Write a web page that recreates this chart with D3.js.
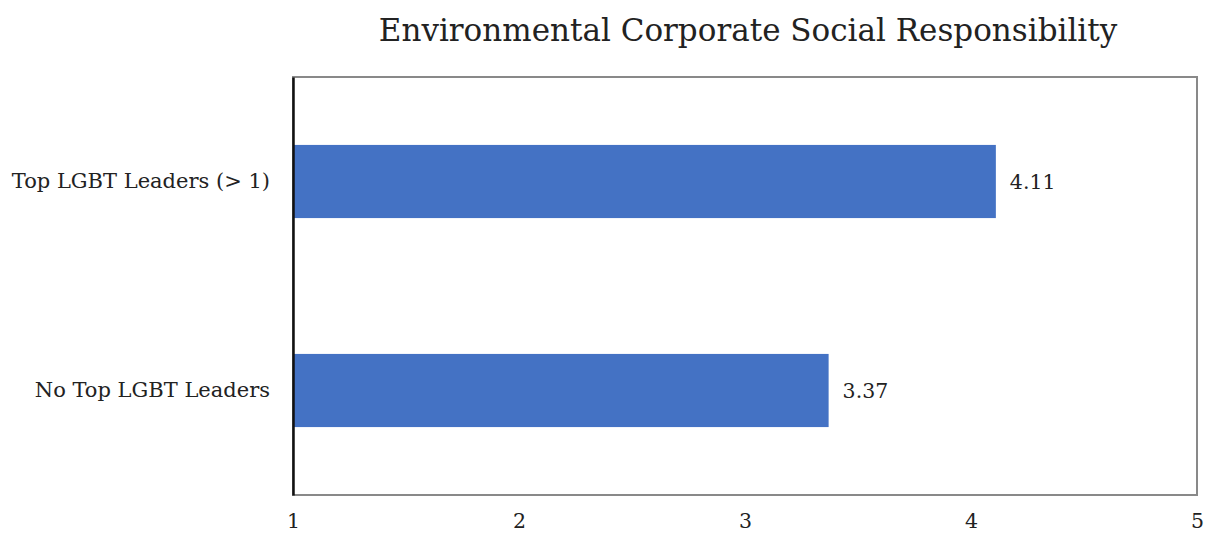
<!DOCTYPE html>
<html>
<head>
<meta charset="utf-8">
<script src="https://cdn.jsdelivr.net/npm/d3@7"></script>
<style>
  html, body { margin: 0; padding: 0; background: #fff; }
  svg { display: block; }
  text { font-family: "DejaVu Serif", "Liberation Serif", serif; fill: #222; }
</style>
</head>
<body>
<svg id="chart" width="1209" height="537"></svg>
<script>
// Chart data
const title = "Environmental Corporate Social Responsibility";
const categories = ["Top LGBT Leaders (> 1)", "No Top LGBT Leaders"];
const values = [4.11, 3.37];
const xTicks = [1, 2, 3, 4, 5];
const xDomain = [1, 5];

const W = 1209, H = 537;
const margin = { top: 77, right: 12, bottom: 42, left: 293 };
const plotW = W - margin.left - margin.right;
const plotH = H - margin.top - margin.bottom;

const svg = d3.select("#chart");
const g = svg.append("g").attr("transform", `translate(${margin.left},${margin.top})`);

const x = d3.scaleLinear().domain(xDomain).range([0, plotW]);
const y = d3.scaleBand().domain(categories).range([0, plotH]).paddingInner(0.65).paddingOuter(0.325);

// Title
svg.append("text")
  .attr("x", margin.left + plotW / 2 + 3)
  .attr("y", 41)
  .attr("text-anchor", "middle")
  .style("font-size", "31px")
  .text(title);

// Plot frame (gray); the category axis line is drawn black on top of it
g.append("rect")
  .attr("x", 0).attr("y", 0)
  .attr("width", plotW).attr("height", plotH)
  .attr("fill", "none")
  .attr("stroke", "#898989")
  .attr("stroke-width", 2);

// Bars
g.selectAll("rect.bar")
  .data(values)
  .join("rect")
  .attr("class", "bar")
  .attr("x", x(xDomain[0]))
  .attr("y", (d, i) => y(categories[i]))
  .attr("width", d => x(d) - x(xDomain[0]))
  .attr("height", y.bandwidth())
  .attr("fill", "#4472c4");

// Value labels
g.selectAll("text.val")
  .data(values)
  .join("text")
  .attr("class", "val")
  .attr("x", d => x(d) + 14)
  .attr("y", (d, i) => y(categories[i]) + y.bandwidth() / 2)
  .attr("dy", "0.35em")
  .style("font-size", "20.5px")
  .text(d => d.toFixed(2));

// Category axis
const yAxis = g.append("g").call(d3.axisLeft(y).tickSize(0).tickPadding(23));
yAxis.select(".domain").attr("stroke", "#111").attr("stroke-width", 2.5);
yAxis.selectAll("text").style("font-size", "21px").attr("fill", "#222")
  .style("font-family", "\"DejaVu Serif\", serif");

// Value axis (tick labels only)
const xAxis = g.append("g")
  .attr("transform", `translate(0,${plotH})`)
  .call(d3.axisBottom(x).tickValues(xTicks).tickFormat(d3.format("d")).tickSize(0).tickPadding(18));
xAxis.select(".domain").remove();
xAxis.selectAll("text").style("font-size", "20.5px").attr("fill", "#222")
  .style("font-family", "\"DejaVu Serif\", serif");
</script>
</body>
</html>
